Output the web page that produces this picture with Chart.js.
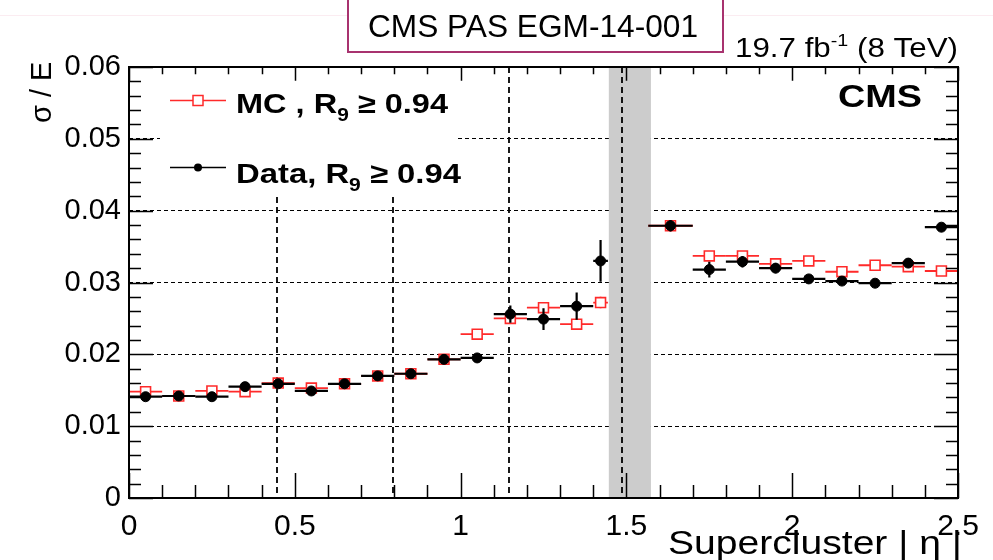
<!DOCTYPE html>
<html>
<head>
<meta charset="utf-8">
<script src="https://cdn.jsdelivr.net/npm/chart.js@4.4.1/dist/chart.umd.min.js"></script>
<style>
  html, body { margin: 0; padding: 0; background: #fff; }
  #wrap { width: 993px; height: 560px; }
</style>
</head>
<body>
<div id="wrap"><canvas id="chart" width="993" height="560"></canvas></div>
<script>
// bins in |eta| (barrel ends at 1.4442, endcap starts at 1.566)
const binLow  = [0, 0.1, 0.2, 0.3, 0.4, 0.5, 0.6, 0.7, 0.8, 0.9, 1.0, 1.1, 1.2, 1.3, 1.4, 1.566, 1.7, 1.8, 1.9, 2.0, 2.1, 2.2, 2.3, 2.4];
const binHigh = [0.1, 0.2, 0.3, 0.4, 0.5, 0.6, 0.7, 0.8, 0.9, 1.0, 1.1, 1.2, 1.3, 1.4, 1.4442, 1.7, 1.8, 1.9, 2.0, 2.1, 2.2, 2.3, 2.4, 2.5];

const mcValues   = [0.0148, 0.0142, 0.0149, 0.0148, 0.0160, 0.0153, 0.0159, 0.0170, 0.0173, 0.0193, 0.0228, 0.0250, 0.0265, 0.0242, 0.0272, 0.0379, 0.0337, 0.0337, 0.0326, 0.0330, 0.0315, 0.0324, 0.0322, 0.0316];
const mcErrors   = [0.0002, 0.0002, 0.0002, 0.0002, 0.0002, 0.0002, 0.0002, 0.0002, 0.0002, 0.0002, 0.0002, 0.0003, 0.0004, 0.0004, 0.0008, 0.0004, 0.0003, 0.0003, 0.0002, 0.0002, 0.0002, 0.0002, 0.0002, 0.0002];
const dataValues = [0.0141, 0.0142, 0.0141, 0.0155, 0.0159, 0.0149, 0.0159, 0.0170, 0.0173, 0.0193, 0.0195, 0.0256, 0.0249, 0.0267, 0.0330, 0.0379, 0.0318, 0.0329, 0.0320, 0.0305, 0.0302, 0.0299, 0.0327, 0.0377];
const dataErrors = [0.0003, 0.0003, 0.0003, 0.0004, 0.0004, 0.0003, 0.0003, 0.0003, 0.0004, 0.0004, 0.0006, 0.0012, 0.0015, 0.0019, 0.0029, 0.0008, 0.0011, 0.0008, 0.0007, 0.0005, 0.0004, 0.0004, 0.0006, 0.0005];

const boundaryLines = [0.446, 0.796, 1.146, 1.487];
const gapBand = [1.447, 1.574];

const FONT = "'Liberation Sans', Arial, Helvetica, sans-serif";
const RED = '#ff2a2a';

const toPoints = vals => vals.map((v, i) => ({ x: (binLow[i] + binHigh[i]) / 2, y: v }));

// draws pieces of text one after another, squeezed/stretched to a given width
function richText(ctx, parts, x, y, width) {
  let total = 0;
  parts.forEach(p => { ctx.font = p.font; p.w = ctx.measureText(p.t).width; total += p.w; });
  const s = width ? width / total : 1;
  ctx.save();
  ctx.translate(x, y);
  ctx.scale(s, 1);
  let cx = 0;
  parts.forEach(p => {
    ctx.font = p.font;
    ctx.fillText(p.t, cx, p.dy || 0);
    cx += p.w;
  });
  ctx.restore();
}

const rootStyle = {
  id: 'rootStyle',
  beforeDatasetsDraw(chart) {
    const { ctx, chartArea: a, scales: { x } } = chart;
    ctx.save();
    // EB/EE gap
    const b0 = x.getPixelForValue(gapBand[0]), b1 = x.getPixelForValue(gapBand[1]);
    ctx.fillStyle = '#cccccc';
    ctx.fillRect(b0, a.top, b1 - b0, a.bottom - a.top);
    // module boundaries
    ctx.strokeStyle = '#000';
    ctx.lineWidth = 1.8;
    ctx.setLineDash([6, 4]);
    boundaryLines.forEach(v => {
      const px = Math.round(x.getPixelForValue(v));
      ctx.beginPath(); ctx.moveTo(px, a.top); ctx.lineTo(px, a.bottom); ctx.stroke();
    });
    ctx.setLineDash([]);
    // legend background
    ctx.fillStyle = '#fff';
    ctx.fillRect(160, a.top + 1, 298, 128);
    ctx.restore();
  },
  beforeDatasetDraw(chart, args) {
    const ds = chart.data.datasets[args.index];
    const { ctx, scales: { x, y } } = chart;
    ctx.save();
    ctx.strokeStyle = ds.errColor;
    ctx.lineWidth = ds.errWidth;
    ds.data.forEach((p, i) => {
      const py = y.getPixelForValue(p.y);
      const px = x.getPixelForValue(p.x);
      ctx.beginPath();
      ctx.moveTo(x.getPixelForValue(binLow[i]), py);
      ctx.lineTo(x.getPixelForValue(binHigh[i]), py);
      ctx.moveTo(px, y.getPixelForValue(p.y - ds.errors[i]));
      ctx.lineTo(px, y.getPixelForValue(p.y + ds.errors[i]));
      ctx.stroke();
    });
    ctx.restore();
  },
  afterDatasetsDraw(chart) {
    const { ctx, chartArea: a, scales: { x, y } } = chart;
    ctx.save();
    ctx.strokeStyle = '#000';
    ctx.lineWidth = 1.5;
    ctx.beginPath();
    for (let i = 0; i <= 25; i++) {
      const px = Math.round(x.getPixelForValue(i * 0.1)) + 0.5;
      const len = i % 5 === 0 ? 25 : 13;
      ctx.moveTo(px, a.bottom); ctx.lineTo(px, a.bottom - len);
      ctx.moveTo(px, a.top); ctx.lineTo(px, a.top + len * 0.55);
    }
    for (let i = 0; i <= 30; i++) {
      const py = Math.round(y.getPixelForValue(i * 0.002)) + 0.5;
      const len = i % 5 === 0 ? 24 : 12;
      ctx.moveTo(a.left, py); ctx.lineTo(a.left + len, py);
      ctx.moveTo(a.right, py); ctx.lineTo(a.right - len, py);
    }
    ctx.stroke();
    ctx.lineWidth = 2;
    ctx.strokeRect(a.left, a.top, a.right - a.left, a.bottom - a.top);
    ctx.restore();
  },
  afterDraw(chart) {
    const { ctx } = chart;
    ctx.save();
    ctx.fillStyle = '#000';
    ctx.textBaseline = 'alphabetic';
    ctx.textAlign = 'left';

    // faint line on top
    ctx.strokeStyle = '#fbecf1';
    ctx.lineWidth = 1;
    ctx.beginPath(); ctx.moveTo(0, 15.5); ctx.lineTo(993, 15.5); ctx.stroke();

    // document id box
    ctx.fillStyle = '#fff';
    ctx.fillRect(348, -2, 375, 54);
    ctx.strokeStyle = '#a8336f';
    ctx.lineWidth = 2;
    ctx.strokeRect(348, -2, 375, 54);
    ctx.fillStyle = '#000';
    richText(ctx, [{ t: 'CMS PAS EGM-14-001', font: "32px 'Liberation Sans Narrow', 'Liberation Sans', sans-serif" }], 368, 37, 330);

    // lumi
    richText(ctx, [
      { t: '19.7 fb', font: `27px ${FONT}` },
      { t: '-1', font: `17px ${FONT}`, dy: -11 },
      { t: ' (8 TeV)', font: `27px ${FONT}` }
    ], 735, 57, 223);

    // CMS label
    richText(ctx, [{ t: 'CMS', font: `bold 31px ${FONT}` }], 838, 107, 84);

    // legend
    ctx.lineWidth = 1.5;
    ctx.strokeStyle = RED;
    ctx.beginPath(); ctx.moveTo(170, 100.5); ctx.lineTo(226, 100.5); ctx.stroke();
    ctx.fillStyle = '#fff';
    ctx.fillRect(193, 95.5, 10, 10);
    ctx.strokeRect(193, 95.5, 10, 10);
    ctx.strokeStyle = '#000';
    ctx.beginPath(); ctx.moveTo(170, 167.5); ctx.lineTo(226, 167.5); ctx.stroke();
    ctx.fillStyle = '#000';
    ctx.beginPath(); ctx.arc(198, 167.5, 4, 0, Math.PI * 2); ctx.fill();

    richText(ctx, [
      { t: 'MC , R', font: `bold 28px ${FONT}` },
      { t: '9', font: `bold 18px ${FONT}`, dy: 8 },
      { t: ' \u2265 0.94', font: `bold 28px ${FONT}` }
    ], 236, 113, 212);
    richText(ctx, [
      { t: 'Data, R', font: `bold 28px ${FONT}` },
      { t: '9', font: `bold 18px ${FONT}`, dy: 8 },
      { t: ' \u2265 0.94', font: `bold 28px ${FONT}` }
    ], 236, 183, 225);

    // axis titles
    ctx.save();
    ctx.translate(51, 123);
    ctx.rotate(-Math.PI / 2);
    ctx.font = `29px ${FONT}`;
    ctx.fillText('\u03c3 / E', 0, 0);
    ctx.restore();

    richText(ctx, [{ t: 'Supercluster | \u03b7 |', font: `33px ${FONT}` }], 668, 554, 294);
    ctx.restore();
  }
};

new Chart(document.getElementById('chart'), {
  type: 'scatter',
  data: {
    datasets: [
      {
        label: 'Data, R9 >= 0.94',
        data: toPoints(dataValues),
        errors: dataErrors,
        errColor: '#000',
        errWidth: 2.2,
        pointStyle: 'circle',
        pointRadius: 5,
        pointBackgroundColor: '#000',
        pointBorderColor: '#000',
        pointBorderWidth: 1,
        showLine: false
      },
      {
        label: 'MC , R9 >= 0.94',
        data: toPoints(mcValues),
        errors: mcErrors,
        errColor: RED,
        errWidth: 1.8,
        pointStyle: 'rect',
        pointRadius: 7,
        pointBackgroundColor: '#fff',
        pointBorderColor: RED,
        pointBorderWidth: 1.6,
        showLine: false
      }
    ]
  },
  options: {
    responsive: false,
    animation: false,
    devicePixelRatio: 1,
    layout: { autoPadding: false, padding: { left: 0, right: 35, top: 67, bottom: 0 } },
    plugins: { legend: { display: false }, tooltip: { enabled: false } },
    scales: {
      x: {
        type: 'linear',
        min: 0,
        max: 2.5,
        afterFit: s => { s.height = 62; },
        grid: { display: false },
        border: { display: false },
        ticks: {
          stepSize: 0.5,
          padding: 3,
          color: '#000',
          font: { family: FONT, size: 30 },
          callback: v => String(Math.round(v * 10) / 10)
        }
      },
      y: {
        min: 0,
        max: 0.06,
        afterFit: s => { s.width = 129; },
        grid: {
          drawTicks: false,
          lineWidth: 1,
          color: c => (c.tick && (c.tick.value < 1e-6 || c.tick.value > 0.0599)) ? 'rgba(0,0,0,0)' : '#000'
        },
        border: { display: false, dash: [4, 3] },
        ticks: {
          stepSize: 0.01,
          padding: 8,
          color: '#000',
          font: { family: FONT, size: 29 },
          callback: v => (v < 1e-6 ? '0' : v.toFixed(2))
        }
      }
    }
  },
  plugins: [rootStyle]
});
</script>
</body>
</html>
